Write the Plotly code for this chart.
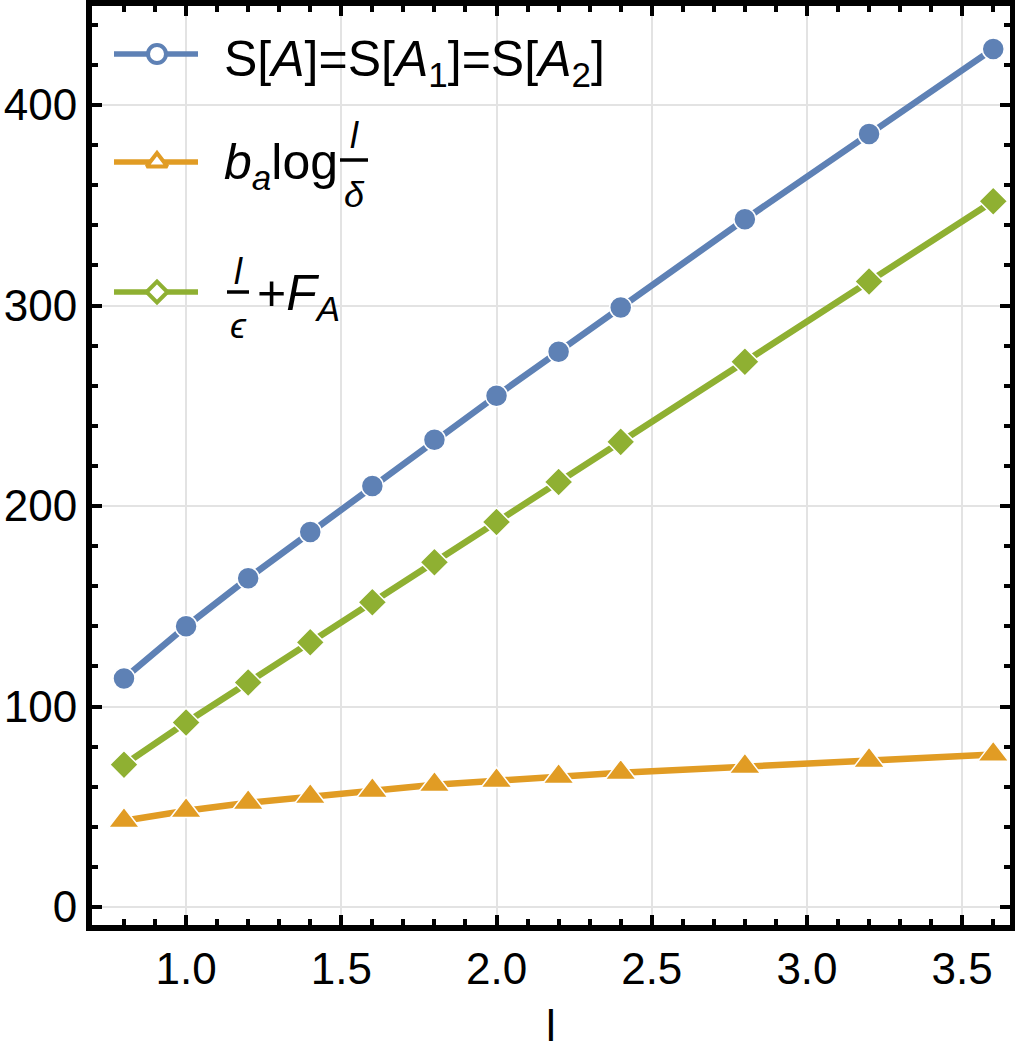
import plotly.graph_objects as go

x_vals = [0.8, 1.0, 1.2, 1.4, 1.6, 1.8, 2.0, 2.2, 2.4, 2.8, 3.2, 3.6]
s_a = [114, 140, 164, 187, 210, 233, 255, 277, 299, 343, 385.5, 428]
b_log = [43, 48, 52, 55, 58, 61, 63, 65, 67, 70, 73, 76]
l_eps = [71, 92, 112, 132, 152, 172, 192, 212, 232, 272, 312, 352]

BLUE = "#5E81B5"
ORANGE = "#E19C24"
GREEN = "#8FB032"
FONT = "Liberation Sans, Arial, sans-serif"

W, H = 1015, 1053
L, R, T, B = 92, 1010, 6, 925

def px(xp):
    return (xp - L) / (R - L)

def py(yp):
    return (B - yp) / (B - T)

fig = go.Figure()

series = [
    (s_a, BLUE, "circle", 22),
    (b_log, ORANGE, "triangle-up", 27),
    (l_eps, GREEN, "diamond", 22),
]
for vals, col, sym, sz in series:
    fig.add_trace(go.Scatter(
        x=x_vals, y=vals, mode="lines+markers",
        line=dict(color=col, width=6.5),
        marker=dict(symbol=sym, size=sz, color=col, line=dict(color="white", width=1.5)),
        showlegend=False, cliponaxis=False,
    ))

# custom legend swatches on an overlay axis (0..1 paper-like)
legend_rows = [(54, BLUE, "circle", 18), (162, ORANGE, "triangle-up", 18), (292, GREEN, "diamond", 16)]
for yp, col, sym, sz in legend_rows:
    fig.add_trace(go.Scatter(
        x=[px(114), px(198)], y=[py(yp), py(yp)], mode="lines",
        line=dict(color=col, width=5.5), xaxis="x2", yaxis="y2", showlegend=False, hoverinfo="skip"))
    fig.add_trace(go.Scatter(
        x=[px(157)], y=[py(yp)], mode="markers",
        marker=dict(symbol=sym, size=sz, color="white", line=dict(color=col, width=4)),
        xaxis="x2", yaxis="y2", showlegend=False, hoverinfo="skip"))

ann = []
def A(text, xp, yp, size=50, xanchor="left", yanchor="middle"):
    ann.append(dict(text=text, x=px(xp), y=py(yp), xref="paper", yref="paper",
                    showarrow=False, xanchor=xanchor, yanchor=yanchor,
                    font=dict(family=FONT, size=size, color="black")))

A("S[<i>A</i>]=S[<i>A</i><sub>1</sub>]=S[<i>A</i><sub>2</sub>]", 222, 62)
A("<i>b</i><sub><i>a</i></sub>log", 222, 165)
A("<i>l</i>", 354, 136, size=36, xanchor="center")
A("<i>δ</i>", 354, 194, size=36, xanchor="center")
A("<i>l</i>", 238, 271, size=36, xanchor="center")
A("<i>ϵ</i>", 238, 326, size=36, xanchor="center")
A("+<i>F</i><sub><i>A</i></sub>", 255, 296)
# x-axis title
A("l", 551, 1052, size=44, xanchor="center", yanchor="bottom")

shapes = [
    dict(type="line", xref="paper", yref="paper", x0=px(340), x1=px(368), y0=py(160), y1=py(160),
         line=dict(color="black", width=3.5)),
    dict(type="line", xref="paper", yref="paper", x0=px(227), x1=px(249), y0=py(292), y1=py(292),
         line=dict(color="black", width=3.5)),
]

axis_common = dict(
    showline=True, linecolor="black", linewidth=6, mirror="allticks",
    ticks="inside", ticklen=10, tickwidth=4, tickcolor="black",
    showgrid=True, gridcolor="#E3E3E3", gridwidth=1.5, zeroline=False,
    tickfont=dict(family=FONT, size=44, color="black"), automargin=False,
)

fig.update_layout(
    width=W, height=H,
    margin=dict(l=L, r=W - R, t=T, b=H - B),
    paper_bgcolor="white", plot_bgcolor="white",
    font=dict(family=FONT, color="black"),
    xaxis=dict(range=[0.697, 3.654], tickvals=[1.0, 1.5, 2.0, 2.5, 3.0, 3.5],
               ticktext=["1.0", "1.5", "2.0", "2.5", "3.0", "3.5"],
               minor=dict(ticks="inside", dtick=0.1, ticklen=6, tickwidth=4, tickcolor="black", showgrid=False),
               **axis_common),
    yaxis=dict(range=[-8.98, 449.4], tickvals=[0, 100, 200, 300, 400],
               minor=dict(ticks="inside", dtick=20, ticklen=6, tickwidth=4, tickcolor="black", showgrid=False),
               **axis_common),
    xaxis2=dict(range=[0, 1], overlaying="x", visible=False, fixedrange=True),
    yaxis2=dict(range=[0, 1], overlaying="y", visible=False, fixedrange=True),
    annotations=ann, shapes=shapes,
)

fig.write_html("out.html")
